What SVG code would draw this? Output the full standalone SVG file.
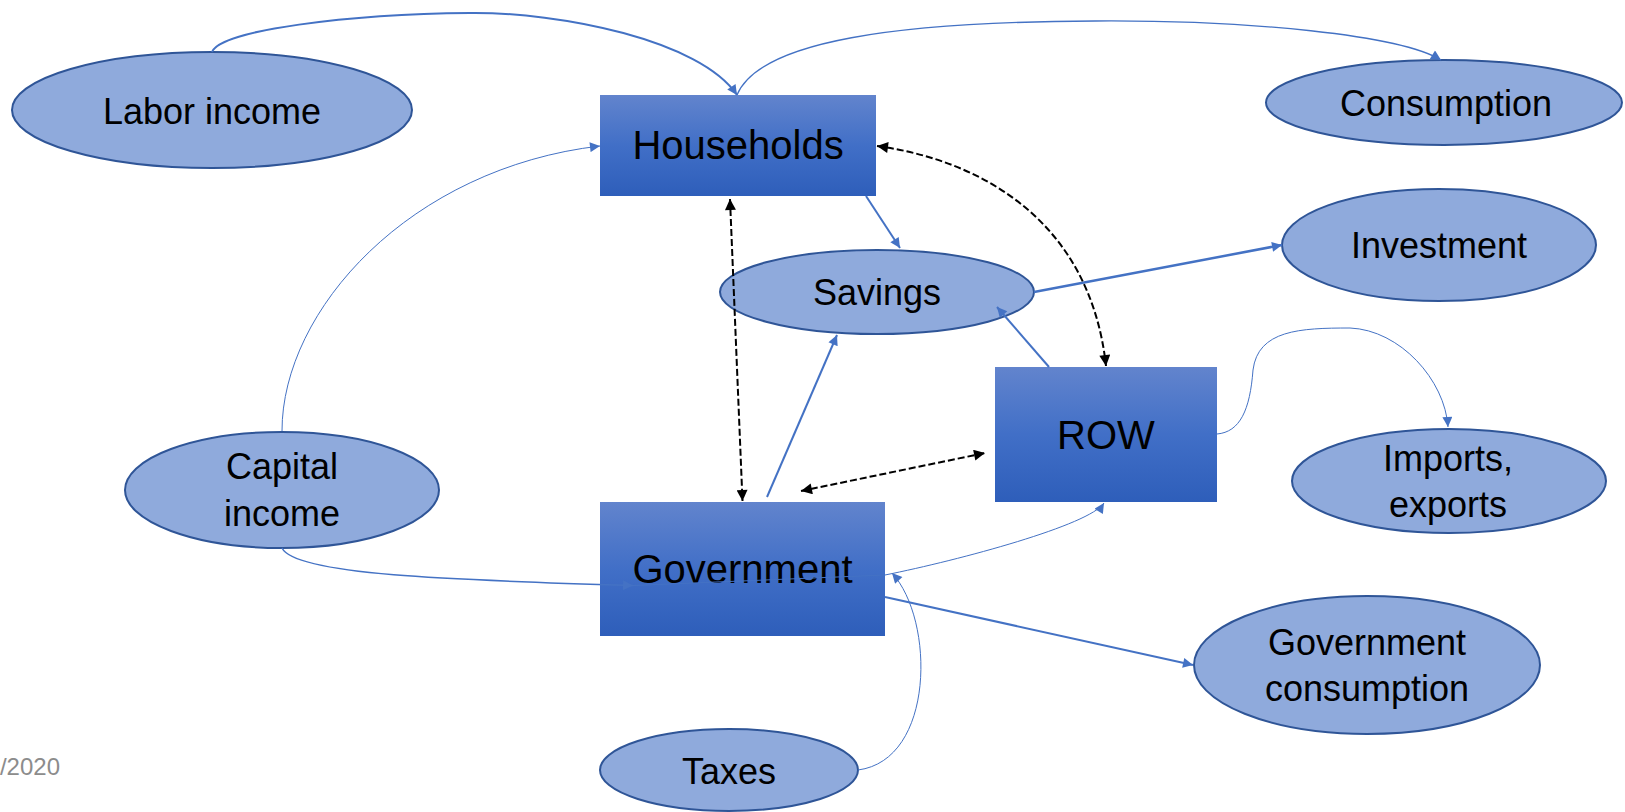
<svg xmlns="http://www.w3.org/2000/svg" width="1625" height="812" viewBox="0 0 1625 812">
  <style>
    .box { stroke: none; }
    .oval { fill: #8FAADC; stroke: #2F5597; stroke-width: 2; }
    .lbl { font-family: "Liberation Sans", Arial, sans-serif; fill: #000; text-anchor: middle; }
    .big { font-size: 40px; }
    .mid { font-size: 36px; }
    .flow { fill: none; stroke: #4472C4; }
    .dash { fill: none; stroke: #000; stroke-width: 2; stroke-dasharray: 7 3; }
    .date { font-family: "Liberation Sans", Arial, sans-serif; font-size: 24px; fill: #8C8C8C; text-anchor: end; }
  </style>
  <defs>
    <linearGradient id="boxFill" x1="0" y1="0" x2="0" y2="1">
      <stop offset="0" stop-color="#6284CD"/>
      <stop offset="0.5" stop-color="#416FC7"/>
      <stop offset="1" stop-color="#2E5EBA"/>
    </linearGradient>
    <marker id="blueHead" viewBox="0 0 10 10" refX="10" refY="5" markerWidth="13" markerHeight="10" markerUnits="userSpaceOnUse" orient="auto">
      <path d="M0,0 L10,5 L0,10 z" fill="#4472C4"/>
    </marker>
    <marker id="blackHead" viewBox="0 0 10 10" refX="10" refY="5" markerWidth="14" markerHeight="11" markerUnits="userSpaceOnUse" orient="auto-start-reverse">
      <path d="M0,0 L10,5 L0,10 z" fill="#000"/>
    </marker>
  </defs>

  <!-- footer date fragment -->
  <text class="date" x="60" y="775">/2020</text>

  <!-- nodes -->
  <g id="labor-income">
    <ellipse class="oval" cx="212" cy="110" rx="200" ry="58"/>
    <text class="lbl mid" x="212" y="124">Labor income</text>
  </g>
  <g id="households">
    <rect class="box" x="600" y="95" width="276" height="101" fill="url(#boxFill)"/>
    <text class="lbl big" x="738" y="159">Households</text>
  </g>
  <g id="consumption">
    <ellipse class="oval" cx="1444" cy="102.5" rx="178" ry="42.5"/>
    <text class="lbl mid" x="1446" y="116">Consumption</text>
  </g>
  <g id="investment">
    <ellipse class="oval" cx="1439" cy="245" rx="157" ry="56"/>
    <text class="lbl mid" x="1439" y="258">Investment</text>
  </g>
  <g id="savings">
    <ellipse class="oval" cx="877" cy="292" rx="157" ry="42"/>
    <text class="lbl mid" x="877" y="305">Savings</text>
  </g>
  <g id="row">
    <rect class="box" x="995" y="367" width="222" height="135" fill="url(#boxFill)"/>
    <text class="lbl big" x="1106" y="449">ROW</text>
  </g>
  <g id="imports-exports">
    <ellipse class="oval" cx="1449" cy="481" rx="157" ry="52"/>
    <text class="lbl mid" x="1448" y="471">Imports,</text>
    <text class="lbl mid" x="1448" y="517">exports</text>
  </g>
  <g id="capital-income">
    <ellipse class="oval" cx="282" cy="490" rx="157" ry="58"/>
    <text class="lbl mid" x="282" y="479">Capital</text>
    <text class="lbl mid" x="282" y="526">income</text>
  </g>
  <g id="government">
    <rect class="box" x="600" y="502" width="285" height="134" fill="url(#boxFill)"/>
    <text class="lbl big" x="742.5" y="583">Government</text>
  </g>
  <g id="government-consumption">
    <ellipse class="oval" cx="1367" cy="665" rx="173" ry="69"/>
    <text class="lbl mid" x="1367" y="655">Government</text>
    <text class="lbl mid" x="1367" y="701">consumption</text>
  </g>
  <g id="taxes">
    <ellipse class="oval" cx="729" cy="770" rx="129" ry="41"/>
    <text class="lbl mid" x="729" y="784">Taxes</text>
  </g>

  <!-- connectors -->
  <g id="connectors">
    <path class="flow" stroke-width="2" d="M212,52 C220,30 350,14 470,13 C560,12 700,40 737,95" marker-end="url(#blueHead)"/>
    <path class="flow" stroke-width="1.3" d="M737,95 C760,40 900,22 1095,21 C1250,20 1400,35 1441,60" marker-end="url(#blueHead)"/>
    <path class="flow" stroke-width="1" d="M282,431 C282,310 410,168 600,146" marker-end="url(#blueHead)"/>
    <path class="flow" stroke-width="1.5" d="M282,548 C295,575 450,580 633,585.5" marker-end="url(#blueHead)"/>
    <path class="flow" stroke-width="1" d="M633,585.5 L885,575 C960,560 1090,525 1104,503" marker-end="url(#blueHead)"/>
    <path class="flow" stroke-width="1" d="M858,770 C935,760 935,620 892,573" marker-end="url(#blueHead)"/>
    <path class="flow" stroke-width="2" d="M866,196 L900,248" marker-end="url(#blueHead)"/>
    <path class="flow" stroke-width="2.5" d="M1034,292 L1282,245" marker-end="url(#blueHead)"/>
    <path class="flow" stroke-width="2" d="M1049,367 L997,307" marker-end="url(#blueHead)"/>
    <path class="flow" stroke-width="2" d="M767,497 L837,335" marker-end="url(#blueHead)"/>
    <path class="flow" stroke-width="2" d="M885,597 L1193,665" marker-end="url(#blueHead)"/>
    <path class="flow" stroke-width="1" d="M1217,434 C1240,432 1250,410 1253,370 C1258,330 1300,328 1350,328 C1400,330 1445,380 1448,427" marker-end="url(#blueHead)"/>
    <path class="dash" d="M730,199 L742.5,501" marker-start="url(#blackHead)" marker-end="url(#blackHead)"/>
    <path class="dash" d="M877,146 C980,160 1090,220 1106,366" marker-start="url(#blackHead)" marker-end="url(#blackHead)"/>
    <path class="dash" d="M801,491 L985,453" marker-start="url(#blackHead)" marker-end="url(#blackHead)"/>
  </g>
</svg>
